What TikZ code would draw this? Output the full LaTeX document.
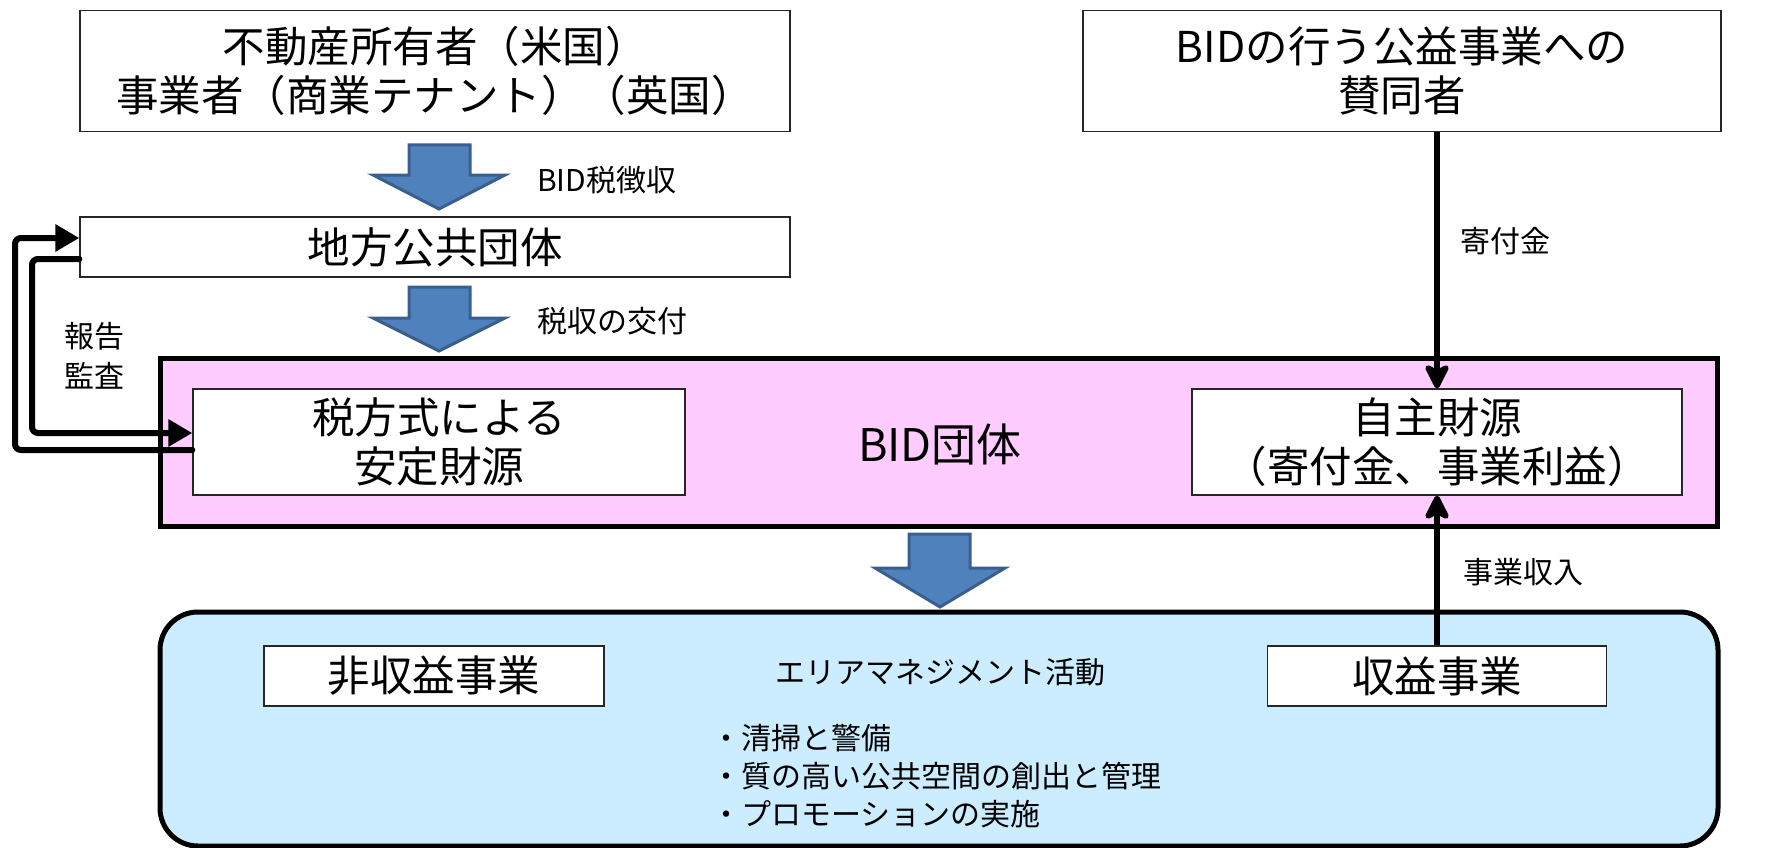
\documentclass[tikz,border=0pt]{standalone}
\usepackage{fontspec}
\setmainfont{Noto Sans CJK JP}
\usetikzlibrary{arrows.meta}
\definecolor{pinkfill}{HTML}{FFCCFF}
\definecolor{bluefill}{HTML}{CCECFF}
\definecolor{arrfill}{HTML}{4F81BD}
\definecolor{arrdraw}{HTML}{3A5F8E}
\tikzset{
  big/.style={font=\fontsize{42.5}{49}\selectfont},
  small/.style={font=\fontsize{30}{38}\selectfont},
  box/.style={draw=black!85, line width=1.3pt, fill=white, inner sep=0pt, align=center, big},
  bidbox/.style={draw=black, line width=5pt, fill=pinkfill, inner sep=0pt},
  actbox/.style={draw=black, line width=5pt, fill=bluefill, inner sep=0pt, rounded corners=38pt},
  blockarrow/.style={draw=arrdraw, line width=3pt, fill=arrfill, line join=miter},
  conn/.style={line width=6pt, -{Stealth[length=30pt,width=30pt,inset=8pt,round]}},
  fb/.style={line width=6pt, rounded corners=6pt, line cap=round, -{Triangle[length=24pt,width=26pt]}},
  lbl/.style={small, inner sep=0pt, anchor=west}
}
\begin{document}
\begin{tikzpicture}[x=1pt,y=-1pt]
\useasboundingbox (0,0) rectangle (1785,848);
% top boxes
\node[box, minimum width=710pt, minimum height=121pt] (own) at (435,71) {不動産所有者（米国）\\事業者（商業テナント）（英国）};
\node[box, minimum width=638pt, minimum height=121pt] (sup) at (1402,71) {BIDの行う公益事業への\\賛同者};
\node[box, minimum width=710pt, minimum height=60pt] (lg) at (435,247) {地方公共団体};
% BID box
\node[bidbox, minimum width=1557pt, minimum height=168pt] (bid) at (938.5,442) {};
\node[font=\fontsize{45}{50}\selectfont] (bidt) at (940,444) {BID団体};
\node[box, minimum width=492pt, minimum height=106pt] (il) at (439,442) {税方式による\\安定財源};
\node[box, minimum width=490pt, minimum height=106pt] (ir) at (1437,442) {自主財源\\（寄付金、事業利益）};
% activity box
\node[actbox, minimum width=1558pt, minimum height=234pt] (act) at (939,729) {};
\node[box, minimum width=340pt, minimum height=60pt] (nrev) at (434,676) {非収益事業};
\node[box, minimum width=339pt, minimum height=60pt] (rev) at (1437,676) {収益事業};
\node[small, inner sep=0pt] (actt) at (940,672) {エリアマネジメント活動};
\node[small, inner sep=0pt, anchor=west, align=left] (bul) at (711,776) {・清掃と警備\\・質の高い公共空間の創出と管理\\・プロモーションの実施};
% block arrows
\draw[blockarrow] (409,145) -- (470,145) -- (470,175) -- (505,175) -- (439,209) -- (373,175) -- (409,175) -- cycle;
\draw[blockarrow] (409,287) -- (470,287) -- (470,318) -- (505,318) -- (439,351) -- (373,318) -- (409,318) -- cycle;
\draw[blockarrow] (909,534) -- (970,534) -- (970,568) -- (1005,568) -- (940,607) -- (875,568) -- (909,568) -- cycle;
% labels
\node[lbl] (l1) at (537,180) {BID税徴収};
\node[lbl] (l2) at (537,321) {税収の交付};
\node[lbl] (l3) at (1460,241) {寄付金};
\node[lbl] (l4) at (1463,572) {事業収入};
\node[small, inner sep=0pt, align=center, font=\fontsize{30}{40}\selectfont] (l5) at (94,356) {報告\\監査};
% connectors
\draw[conn] (sup.south -| ir.north) -- (ir.north);
\draw[conn] (rev.north) -- (ir.south);
\draw[fb] ([yshift=-8pt]il.west) -- (15,450) |- ([yshift=9pt]lg.west);
\draw[fb] ([yshift=-12pt]lg.west) -- (32,259) |- ([yshift=9pt]il.west);
\end{tikzpicture}
\end{document}
